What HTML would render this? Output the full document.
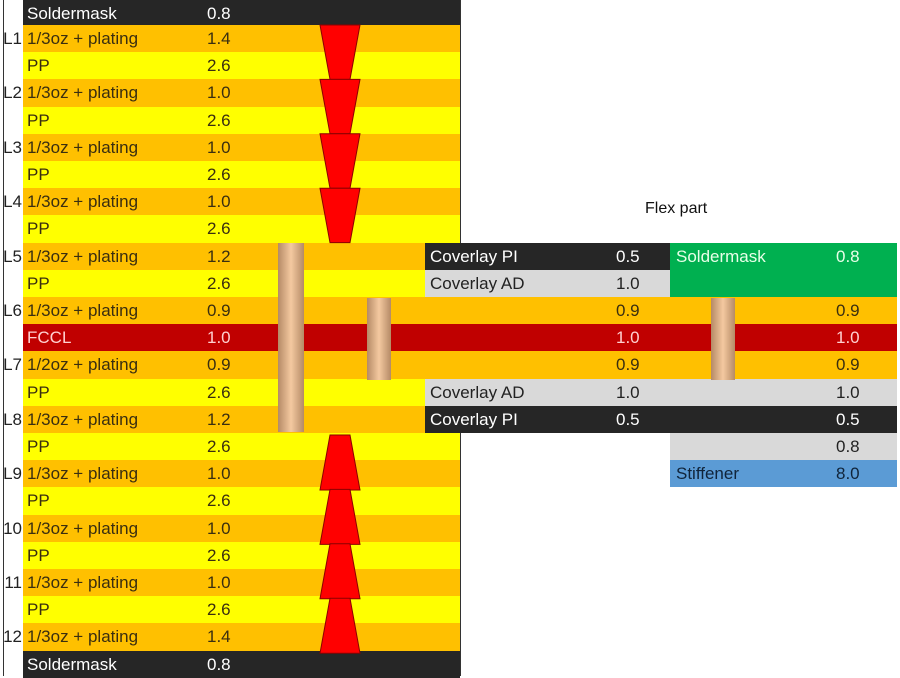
<!DOCTYPE html>
<html><head><meta charset="utf-8"><style>
body{margin:0;width:900px;height:676px;background:#fff;position:relative;overflow:hidden;font-family:"Liberation Sans",sans-serif;font-size:17px}
.r{position:absolute;height:27.2px;line-height:27.2px;white-space:nowrap}
.t{position:absolute;top:0;color:#3a2e10}
.o{background:#FFC000}.y{background:#FFFF00}.k{background:#262626}.k .t{color:#fff}
.rd{background:#C00000}.rd .t{color:#ffd0d0}.g{background:#D9D9D9}.g .t{color:#222}
.gr{background:#00B050}.gr .t{color:#e8ffe8}.b{background:#5B9BD5}.b .t{color:#10243a}
.lab{position:absolute;width:22px;text-align:right;left:0;color:#222;overflow:hidden;height:27px;line-height:27px}
.via{position:absolute;background:linear-gradient(to right,#b58a66,#f4c9a0 50%,#b58a66)}
</style></head><body>
<div style="position:absolute;left:3px;top:0;width:1px;height:676px;background:#333"></div>
<div id="c"></div>
<script>
(function(){
var rows=[["Soldermask","0.8","k",""],["1/3oz + plating","1.4","o","L1"],["PP","2.6","y",""],["1/3oz + plating","1.0","o","L2"],["PP","2.6","y",""],["1/3oz + plating","1.0","o","L3"],["PP","2.6","y",""],["1/3oz + plating","1.0","o","L4"],["PP","2.6","y",""],["1/3oz + plating","1.2","o","L5"],["PP","2.6","y",""],["1/3oz + plating","0.9","o","L6"],["FCCL","1.0","rd",""],["1/2oz + plating","0.9","o","L7"],["PP","2.6","y",""],["1/3oz + plating","1.2","o","L8"],["PP","2.6","y",""],["1/3oz + plating","1.0","o","L9"],["PP","2.6","y",""],["1/3oz + plating","1.0","o","10"],["PP","2.6","y",""],["1/3oz + plating","1.0","o","11"],["PP","2.6","y",""],["1/3oz + plating","1.4","o","12"],["Soldermask","0.8","k",""]];
function rt(i){return i==0?0:25+(i-1)*27.2}
var h="";
function box(x,y,w,hh,cls,items){var s='<div class="r '+cls+'" style="left:'+x+'px;top:'+y+'px;width:'+w+'px;height:'+hh+'px">';items.forEach(function(it){s+='<span class="t" style="left:'+it[0]+'px">'+it[1]+'</span>'});return s+'</div>'}
rows.forEach(function(r,i){var y=rt(i),hh=i==0?25:27.2;var w=(i>=11&&i<=13)?874:437;
h+=box(23,y,w,hh,r[2],[[4,r[0]],[184,r[1]]]);
if(r[3])h+='<div class="lab" style="top:'+y+'px">'+r[3]+'</div>';});
h+='<div style="position:absolute;left:460px;top:0;width:1px;height:243px;background:#333"></div>';
h+='<div style="position:absolute;left:460px;top:433px;width:1px;height:243px;background:#333"></div>';
var y9=rt(9),y10=rt(10),y11=rt(11),y12=rt(12),y13=rt(13),y14=rt(14),y15=rt(15),y16=rt(16),y17=rt(17);
h+=box(425,y9,245,27.2,"k",[[5,"Coverlay PI"],[191,"0.5"]]);
h+=box(670,y9,227,54.4,"gr",[[6,"Soldermask"],[166,"0.8"]]);
h+=box(425,y10,245,27.2,"g",[[5,"Coverlay AD"],[191,"1.0"]]);
function tx(x,y,t,c){return '<span class="t" style="position:absolute;left:'+x+'px;top:'+y+'px;line-height:27px;'+(c?'color:'+c:'')+'">'+t+'</span>'}
h+=tx(616,y11,"0.9")+tx(836,y11,"0.9")+tx(616,y12,"1.0","#ffd0d0")+tx(836,y12,"1.0","#ffd0d0")+tx(616,y13,"0.9")+tx(836,y13,"0.9");
h+=box(425,y14,472,27.2,"g",[[5,"Coverlay AD"],[191,"1.0"],[411,"1.0"]]);
h+=box(425,y15,472,27.2,"k",[[5,"Coverlay PI"],[191,"0.5"],[411,"0.5"]]);
h+=box(670,y16,227,27.2,"g",[[166,"0.8"]]);
h+=box(670,y17,227,27.2,"b",[[6,"Stiffener"],[166,"8.0"]]);
h+='<div class="via" style="left:278px;top:243px;width:26px;height:189px"></div>';
h+='<div class="via" style="left:367px;top:298px;width:24px;height:82px"></div>';
h+='<div class="via" style="left:711px;top:298px;width:24px;height:82px"></div>';
h+='<div style="position:absolute;left:645px;top:200px;font-size:16px;color:#111">Flex part</div>';
var s='<svg style="position:absolute;left:0;top:0" width="900" height="676">';
[25,79.4,133.8,188.2].forEach(function(a){s+='<polygon points="320,'+a+' 360,'+a+' 350,'+(a+54.4)+' 330,'+(a+54.4)+'" fill="#FF0000" stroke="#8a0000" stroke-width="1"/>'});
[435,489.4,543.8,598.2].forEach(function(a){s+='<polygon points="330,'+a+' 350,'+a+' 360,'+(a+55)+' 320,'+(a+55)+'" fill="#FF0000" stroke="#8a0000" stroke-width="1"/>'});
s+='</svg>';h+=s;
document.getElementById("c").innerHTML=h;
})();
</script>
</body></html>
